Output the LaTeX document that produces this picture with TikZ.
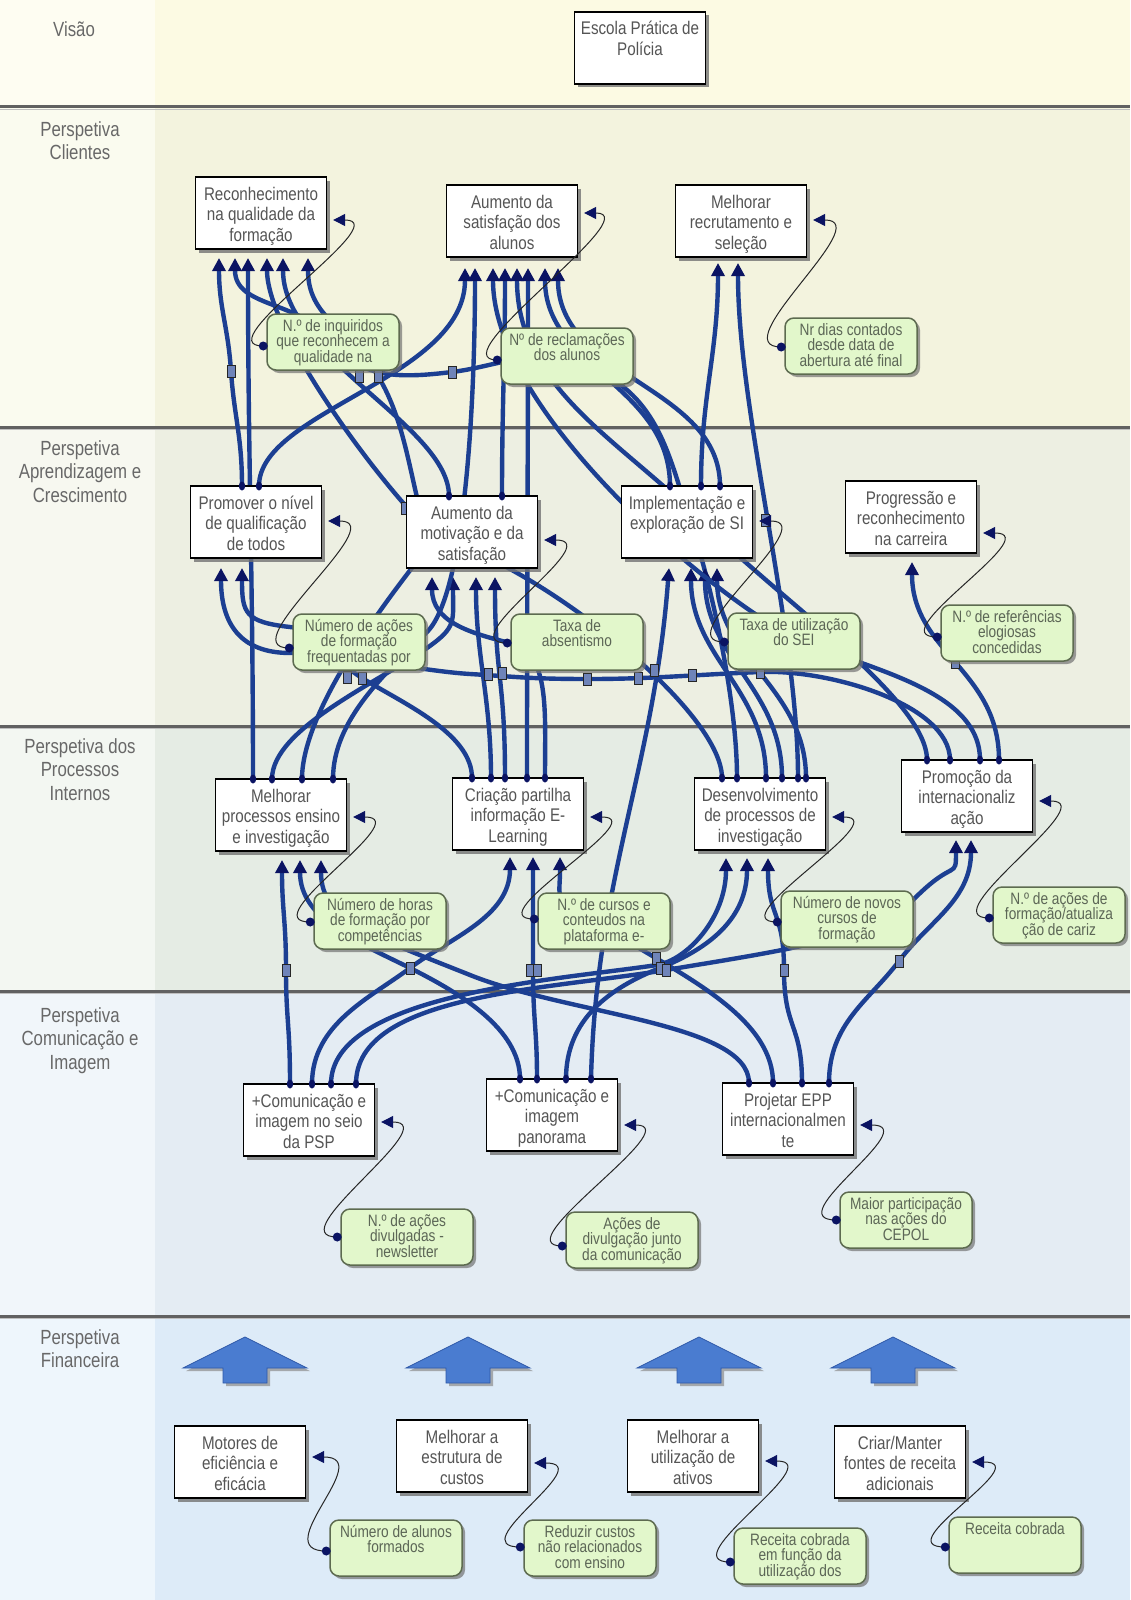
\documentclass[tikz,border=0pt]{standalone}
\usepackage{fontspec}
\setmainfont{Liberation Sans}[FakeStretch=0.83]
\newfontfamily\lblfont{Liberation Sans}[FakeStretch=0.82]
\usetikzlibrary{arrows.meta,shadows}

\definecolor{visbg}{HTML}{FCFAE3}
\definecolor{vislab}{HTML}{FEFDF2}
\definecolor{clibg}{HTML}{F3F3DE}
\definecolor{clilab}{HTML}{FAFBEF}
\definecolor{aprbg}{HTML}{EDEFE2}
\definecolor{aprlab}{HTML}{F7F8F0}
\definecolor{probg}{HTML}{E5ECE4}
\definecolor{prolab}{HTML}{F3F7F2}
\definecolor{combg}{HTML}{E4ECF3}
\definecolor{comlab}{HTML}{F1F6FA}
\definecolor{finbg}{HTML}{DDEBF8}
\definecolor{finlab}{HTML}{EEF6FC}
\definecolor{linkblue}{HTML}{1C3F92}
\definecolor{tipnavy}{HTML}{0B1463}
\definecolor{sqfill}{HTML}{6F84B9}
\definecolor{indfill}{HTML}{E2F7CB}
\definecolor{indline}{HTML}{5D6B50}
\definecolor{objgray}{HTML}{555555}
\definecolor{indtext}{HTML}{5C6656}
\definecolor{labgray}{HTML}{686868}
\definecolor{arrfill}{HTML}{4A7CD0}
\definecolor{arrline}{HTML}{2E58A8}

% objective text: lines hanging from the top of the box
\newcommand\objtxt[1]{\parbox[c][72pt][t]{131pt}{\centering\fontsize{18.3}{20.5}\selectfont\rule{0pt}{23pt}#1\par}}
% indicator text: tightly packed lines
\newcommand\indtxt[1]{\parbox[c][56pt][t]{132pt}{\centering\fontsize{16.5}{15.5}\selectfont\lineskiplimit=-100pt\lineskip=0pt\rule{0pt}{17pt}#1\par}}

\begin{document}
\begin{tikzpicture}[x=1pt,y=-1pt,
  objbox/.style={draw=black,line width=1.3pt,fill=white,inner sep=0pt,text=objgray,
    drop shadow={shadow xshift=3.5pt,shadow yshift=-3.5pt,fill=black!55,opacity=0.8}},
  indbox/.style={draw=indline,line width=1.5pt,fill=indfill,rounded corners=9pt,inner sep=0pt,text=indtext,
    drop shadow={shadow xshift=3pt,shadow yshift=-3pt,fill=black!55,opacity=0.7}},
  lbl/.style={anchor=north,align=center,inner sep=0pt,text=labgray,font=\lblfont\fontsize{20.5}{23.5}\selectfont},
  link/.style={draw=linkblue,line width=4.4pt,-{Triangle[length=13pt,width=13pt,color=tipnavy]}},
  loopln/.style={draw=black!85,line width=1pt,-{Triangle[length=12pt,width=12pt,color=tipnavy]}},
  marker/.style={draw=black!85,fill=sqfill,line width=0.8pt,minimum width=8pt,minimum height=12pt,inner sep=0pt},
  bigarrow/.style={fill=arrfill,draw=arrline,line width=0.8pt,
    drop shadow={shadow xshift=3pt,shadow yshift=-3pt,fill=black!45,opacity=0.7}},
  divline/.style={draw=black!62,line width=3pt}
]
\useasboundingbox (0,0) rectangle (1130,1600);

% ---------- perspective bands ----------
\fill[visbg] (0,0) rectangle (1130,107);
\fill[vislab] (0,0) rectangle (155,107);
\fill[clibg] (0,107) rectangle (1130,427);
\fill[clilab] (0,107) rectangle (155,427);
\fill[aprbg] (0,427) rectangle (1130,726);
\fill[aprlab] (0,427) rectangle (155,726);
\fill[probg] (0,726) rectangle (1130,991);
\fill[prolab] (0,726) rectangle (155,991);
\fill[combg] (0,991) rectangle (1130,1316);
\fill[comlab] (0,991) rectangle (155,1316);
\fill[finbg] (0,1316) rectangle (1130,1600);
\fill[finlab] (0,1316) rectangle (155,1600);
\foreach \yy in {107,427,726,991,1316}{
  \draw[divline] (0,\yy) -- (1130,\yy);
  \draw[black!25,line width=1.5pt] (0,\yy+2.5) -- (1130,\yy+2.5);
}

% ---------- perspective titles ----------
\node[lbl] (lv) at (74,21) {Visão};
\node[lbl] (lc) at (80,121) {Perspetiva\\Clientes};
\node[lbl] (la) at (80,440) {Perspetiva\\Aprendizagem e\\Crescimento};
\node[lbl] (lp) at (80,738) {Perspetiva dos\\Processos\\Internos};
\node[lbl] (lm) at (80,1007) {Perspetiva\\Comunicação e\\Imagem};
\node[lbl] (lf) at (80,1329) {Perspetiva\\Financeira};

% ---------- connector end points ----------
\foreach \n/\x/\y in {
  pq-a/242/486, pq-b/259/486, am-a/449/496, am-b/502/496,
  is-a/670/486, is-b/701/486, is-c/720/486,
  mp-a/253/779, mp-b/272/779, mp-c/302/779, mp-d/333/779,
  cp-a/472/778, cp-b/491/778, cp-c/505/778, cp-d/527/778, cp-e/545/778,
  dp-a/722/778, dp-b/737/778, dp-c/766/778, dp-d/782/778, dp-e/798/778, dp-f/806/778,
  pi-a/927/760, pi-b/950/760, pi-c/980/760, pi-d/999/760,
  cs-a/290/1084, cs-b/312/1084, cs-c/331/1084, cs-d/356/1084,
  ca-a/520/1079, ca-b/537/1079, ca-c/566/1079, ca-d/591/1079,
  pe-a/749/1083, pe-b/773/1083, pe-c/802/1083, pe-d/829/1083}
  {\coordinate (\n) at (\x,\y);}
\foreach \n/\x/\y in {
  tr1/219/258, tr2/235/258, tr3/248/258, tr4/267/258, tr5/283/258, tr6/308/258,
  ts1/465/268, ts2/475/268, ts3/493/268, ts4/505/268, ts5/517/268, ts6/528/268, ts7/545/268, ts8/558/268,
  tm1/718/263, tm2/738/263,
  tq1/221/568, tq2/242/568,
  ta1/432/577, ta2/453/577, ta3/476/577, ta4/495/577,
  ti1/669/568, ti2/691/568, ti3/705/568, ti4/717/568,
  tg1/912/562,
  tp1/282/860, tp2/300/860, tp3/321/860,
  tc1/510/857, tc2/533/857, tc3/560/857,
  td1/726/858, td2/747/858, td3/768/858,
  tn1/956/840, tn2/971/840}
  {\coordinate (\n) at (\x,\y);}

% ---------- cause-effect links ----------
\draw[link] (pq-a) .. controls +(0,-50) and +(3,45) .. (231,371) .. controls +(-3,-45) and +(0,50) .. (tr1);
\draw[link] (pq-b) .. controls +(0,-75) and +(0,110) .. (ts1);
\draw[link] (am-a) .. controls +(0,-70) and +(0,100) .. (tr5);
\draw[link] (am-b) .. controls +(0,-90) and +(0,90) .. (ts4);
\draw[link] (is-a) .. controls +(0,-100) and +(0,100) .. (ts7);
\draw[link] (is-b) .. controls +(0,-90) and +(0,90) .. (tm1);
\draw[link] (is-c) .. controls +(0,-100) and +(0,110) .. (ts8);

\draw[link] (mp-a) .. controls +(0,-200) and +(0,200) .. (tr3);
\draw[link] (mp-b) .. controls +(0,-50) and +(-50,35) .. (427,648) .. controls +(30,-21) and +(0,45) .. (ta2);
\draw[link] (mp-c) .. controls +(0,-70) and +(-40,50) .. (430,545) .. controls +(-20,-60) and +(30,50) .. (378,376) .. controls +(-30,-50) and +(0,60) .. (tr6);
\draw[link] (mp-d) .. controls +(0,-60) and +(-40,40) .. (427,632) .. controls +(40,-40) and +(0,120) .. (ts2);
\draw[link] (cp-a) .. controls +(0,-45) and +(40,25) .. (362,678) .. controls +(-40,-25) and +(45,5) .. (290,627) .. controls +(-45,-5) and +(0,45) .. (tq2);
\draw[link] (cp-b) .. controls +(0,-80) and +(0,80) .. (ta3);
\draw[link] (cp-c) .. controls +(0,-100) and +(0,100) .. (ta4);
\draw[link] (cp-d) .. controls +(0,-200) and +(0,200) .. (ts6);
\draw[link] (cp-e) .. controls +(0,-70) and +(40,10) .. (510,643) .. controls +(-40,-10) and +(0,45) .. (ta1);
\draw[link] (dp-a) .. controls +(0,-70) and +(90,20) .. (440,540) .. controls +(-40,-30) and +(0,80) .. (tr4);
\draw[link] (dp-b) .. controls +(0,-80) and +(20,60) .. (690,520) .. controls +(-20,-60) and +(60,30) .. (600,372) .. controls +(-60,-30) and +(50,-6) .. (452,372) .. controls +(-50,6) and +(30,40) .. (330,340) .. controls +(-30,-40) and +(0,50) .. (tr2);
\draw[link] (dp-c) .. controls +(0,-90) and +(0,90) .. (ti2);
\draw[link] (dp-d) .. controls +(0,-90) and +(0,90) .. (ti3);
\draw[link] (dp-e) .. controls +(0,-150) and +(0,150) .. (tm2);
\draw[link] (dp-f) .. controls +(0,-90) and +(0,90) .. (ti4);
\draw[link] (pi-a) .. controls +(0,-60) and +(80,80) .. (700,520) .. controls +(-80,-80) and +(0,120) .. (ts5);
\draw[link] (pi-b) .. controls +(0,-55) and +(70,-3) .. (760,672) .. controls +(-70,3) and +(60,0) .. (590,679) .. controls +(-60,0) and +(50,3) .. (470,674) .. controls +(-50,-3) and +(50,0) .. (290,653) .. controls +(-50,0) and +(0,55) .. (tq1);
\draw[link] (pi-c) .. controls +(0,-70) and +(70,30) .. (800,640) .. controls +(-70,-30) and +(0,150) .. (ts3);
\draw[link] (pi-d) .. controls +(0,-90) and +(0,90) .. (tg1);

\draw[link] (cs-a) .. controls +(0,-60) and +(0,50) .. (286,970) .. controls +(0,-50) and +(0,50) .. (tp1);
\draw[link] (cs-b) .. controls +(0,-60) and +(-40,30) .. (410,968) .. controls +(40,-30) and +(0,60) .. (tc1);
\draw[link] (cs-c) .. controls +(0,-90) and +(-100,15) .. (657,965) .. controls +(30,-5) and +(0,60) .. (td1);
\draw[link] (cs-d) .. controls +(0,-90) and +(-120,20) .. (666,970) .. controls +(120,-20) and +(-40,40) .. (915,898) .. controls +(40,-40) and +(0,40) .. (tn1);
\draw[link] (ca-a) .. controls +(0,-50) and +(50,25) .. (410,968) .. controls +(-50,-25) and +(0,60) .. (tp2);
\draw[link] (ca-b) .. controls +(0,-50) and +(0,50) .. (533,970) .. controls +(0,-50) and +(0,50) .. (tc2);
\draw[link] (ca-c) .. controls +(0,-60) and +(-50,20) .. (660,968) .. controls +(50,-20) and +(0,60) .. (td2);
\draw[link] (ca-d) .. controls +(5,-200) and +(-15,200) .. (ti1);
\draw[link] (pe-a) .. controls +(0,-60) and +(100,40) .. (470,975) .. controls +(-100,-40) and +(0,60) .. (tp3);
\draw[link] (pe-b) .. controls +(0,-70) and +(60,40) .. (610,930) .. controls +(-60,-40) and +(0,50) .. (tc3);
\draw[link] (pe-c) .. controls +(0,-60) and +(0,60) .. (784,970) .. controls +(0,-60) and +(0,60) .. (td3);
\draw[link] (pe-d) .. controls +(0,-60) and +(-30,40) .. (899,961) .. controls +(30,-40) and +(0,60) .. (tn2);

% link markers
\foreach \x/\y [count=\k] in {231/371, 359/376, 378/376, 452/372, 405/508, 765/520,
  347/677, 362/678, 488/674, 502/673, 587/679, 638/678, 654/670, 692/675, 760/672, 955/662,
  286/970, 410/968, 530/970, 537/970, 656/958, 660/968, 666/970, 784/970, 899/961}
  {\node[marker] (mk\k) at (\x,\y) {};}

% ---------- objectives ----------
\node[objbox] (esc) at (640,48) {\objtxt{Escola Prática de\\Polícia}};
\node[objbox] (rec) at (261,213) {\objtxt{Reconhecimento\\na qualidade da\\formação}};
\node[objbox] (asa) at (512,221) {\objtxt{Aumento da\\satisfação dos\\alunos}};
\node[objbox] (mrs) at (741,221) {\objtxt{Melhorar\\recrutamento e\\seleção}};
\node[objbox] (pqt) at (256,522) {\objtxt{Promover o nível\\de qualificação\\de todos}};
\node[objbox] (amo) at (472,532) {\objtxt{Aumento da\\motivação e da\\satisfação}};
\node[objbox] (ies) at (687,522) {\objtxt{Implementação e\\exploração de SI}};
\node[objbox] (prc) at (911,517) {\objtxt{Progressão e\\reconhecimento\\na carreira}};
\node[objbox] (mpe) at (281,815) {\objtxt{Melhorar\\processos ensino\\e investigação}};
\node[objbox] (cpe) at (518,814) {\objtxt{Criação partilha\\informação E-\\Learning}};
\node[objbox] (dpi) at (760,814) {\objtxt{Desenvolvimento\\de processos de\\investigação}};
\node[objbox] (pin) at (967,796) {\objtxt{Promoção da\\internacionaliz\\ação}};
\node[objbox] (cps) at (309,1120) {\objtxt{+Comunicação e\\imagem no seio\\da PSP}};
\node[objbox] (cpa) at (552,1115) {\objtxt{+Comunicação e\\imagem\\panorama}};
\node[objbox] (pep) at (788,1119) {\objtxt{Projetar EPP\\internacionalmen\\te}};
\node[objbox] (mef) at (240,1462) {\objtxt{Motores de\\eficiência e\\eficácia}};
\node[objbox] (mec) at (462,1456) {\objtxt{Melhorar a\\estrutura de\\custos}};
\node[objbox] (mua) at (693,1456) {\objtxt{Melhorar a\\utilização de\\ativos}};
\node[objbox] (cmf) at (900,1462) {\objtxt{Criar/Manter\\fontes de receita\\adicionais}};

% ---------- indicators ----------
\node[indbox] (inq) at (333,342) {\indtxt{N.º de inquiridos\\que reconhecem a\\qualidade na}};
\node[indbox] (rcl) at (567,356) {\indtxt{Nº de reclamações\\dos alunos}};
\node[indbox] (ndc) at (851,346) {\indtxt{Nr dias contados\\desde data de\\abertura até final}};
\node[indbox] (nac) at (359,642) {\indtxt{Número de ações\\de formação\\frequentadas por}};
\node[indbox] (tab) at (577,642) {\indtxt{Taxa de\\absentismo}};
\node[indbox] (tus) at (794,641) {\indtxt{Taxa de utilização\\do SEI}};
\node[indbox] (nre) at (1007,633) {\indtxt{N.º de referências\\elogiosas\\concedidas}};
\node[indbox] (nhf) at (380,921) {\indtxt{Número de horas\\de formação por\\competências}};
\node[indbox] (ncc) at (604,921) {\indtxt{N.º de cursos e\\conteudos na\\plataforma e-}};
\node[indbox] (nnc) at (847,919) {\indtxt{Número de novos\\cursos de\\formação}};
\node[indbox] (nfa) at (1059,915) {\indtxt{N.º de ações de\\formação/atualiza\\ção de cariz}};
\node[indbox] (nad) at (407,1237) {\indtxt{N.º de ações\\divulgadas -\\newsletter}};
\node[indbox] (adc) at (632,1240) {\indtxt{Ações de\\divulgação junto\\da comunicação}};
\node[indbox] (mpc) at (906,1220) {\indtxt{Maior participação\\nas ações do\\CEPOL}};
\node[indbox] (naf) at (396,1548) {\indtxt{Número de alunos\\formados}};
\node[indbox] (rcn) at (590,1548) {\indtxt{Reduzir custos\\não relacionados\\com ensino}};
\node[indbox] (rcf) at (800,1556) {\indtxt{Receita cobrada\\em função da\\utilização dos}};
\node[indbox] (rco) at (1015,1545) {\indtxt{Receita cobrada}};

% link start dots on the source objectives
\foreach \p in {pq-a,pq-b,am-a,am-b,is-a,is-b,is-c,mp-a,mp-b,mp-c,mp-d,
  cp-a,cp-b,cp-c,cp-d,cp-e,dp-a,dp-b,dp-c,dp-d,dp-e,dp-f,pi-a,pi-b,pi-c,pi-d,
  cs-a,cs-b,cs-c,cs-d,ca-a,ca-b,ca-c,ca-d,pe-a,pe-b,pe-c,pe-d}
  {\fill[tipnavy] (\p) ellipse (3.2pt and 4.5pt);}

% ---------- indicator-to-objective measures ----------
\foreach \i/\o/\dy/\ty in {inq/rec/4/7, rcl/asa/4/-8, ndc/mrs/1/-1, nac/pqt/6/-1,
  tab/amo/1/8, tus/ies/1/-1, nre/prc/4/16, nhf/mpe/1/2, ncc/cpe/-2/3, nnc/dpi/3/3,
  nfa/pin/3/5, nad/cps/0/2, adc/cpa/6/10, mpc/pep/0/6, naf/mef/3/-5, rcn/mec/-1/7,
  rcf/mua/6/5, rco/cmf/2/0}
{
  \draw[loopln] ([shift={(-3,\dy)}]\i.west) .. controls +(-60,0) and +(65,0) .. ([shift={(6,\ty)}]\o.east);
  \fill[tipnavy] ([shift={(-3,\dy)}]\i.west) circle (4.5pt);
}

% ---------- financial block arrows ----------
\foreach \cx in {245,468,699,893}
  \draw[bigarrow] (\cx,1337) -- ++(62,31) -- ++(-40,0) -- ++(0,15) -- ++(-44,0) -- ++(0,-15) -- ++(-40,0) -- cycle;

\end{tikzpicture}
\end{document}
